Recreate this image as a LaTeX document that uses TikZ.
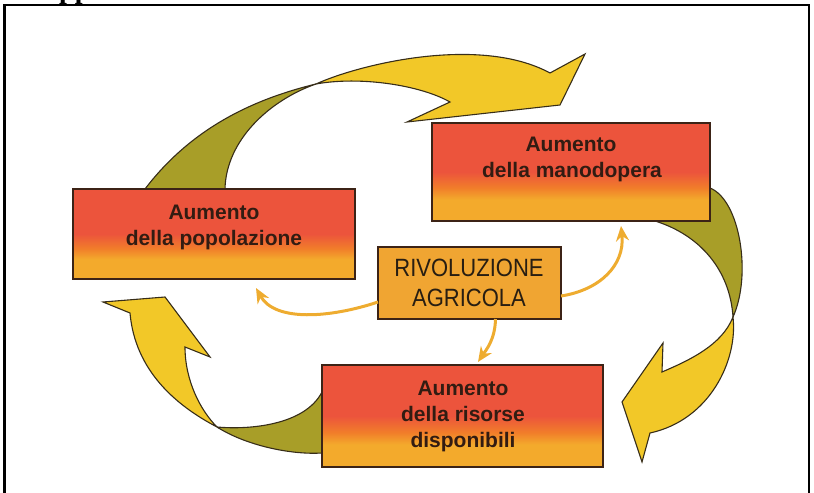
\documentclass[tikz,border=0pt]{standalone}
\usepackage{fontspec}
\usetikzlibrary{arrows.meta}
\newfontfamily\boxfont{Liberation Sans}
\newfontfamily\rivfont[FakeStretch=0.88]{Liberation Sans}
\newfontfamily\cutfont{Liberation Serif}
\definecolor{redc}{RGB}{236,84,60}
\definecolor{orc}{RGB}{241,125,42}
\definecolor{ambc}{RGB}{243,170,44}
\definecolor{rivfill}{RGB}{240,165,50}
\definecolor{boxline}{RGB}{60,35,22}
\definecolor{txtc}{RGB}{50,28,18}
\definecolor{rivtxtc}{RGB}{40,30,18}
\definecolor{olivec}{RGB}{168,158,40}
\definecolor{yelc}{RGB}{242,200,40}
\definecolor{arrline}{RGB}{55,45,25}
\definecolor{smallc}{RGB}{238,172,48}
\pgfdeclareverticalshading{boxshade}{100bp}{color(0bp)=(ambc); color(25bp)=(ambc); color(36bp)=(ambc); color(42bp)=(orc); color(50bp)=(redc); color(75bp)=(redc); color(100bp)=(redc)}
\tikzset{
  box/.style={rectangle, draw=boxline, line width=1.8bp, shading=boxshade, inner sep=0pt, outer sep=0pt},
  rivbox/.style={rectangle, draw=boxline, line width=1.8bp, fill=rivfill, inner sep=0pt, outer sep=0pt},
  boxtxt/.style={font=\boxfont\bfseries\fontsize{21bp}{26bp}\selectfont, text=txtc, anchor=base, inner sep=0pt},
  rivtxt/.style={font=\rivfont\fontsize{25bp}{30bp}\selectfont, text=rivtxtc, anchor=base, inner sep=0pt},
  olivepart/.style={fill=olivec, draw=arrline, line width=1.1bp, line join=round},
  yellowpart/.style={fill=yelc, draw=arrline, line width=1.1bp, line join=miter},
  smallarr/.style={draw=smallc, line width=3bp, -{Stealth[length=15bp,width=13bp]}},
  frame/.style={draw=black, line width=2.6bp}
}
\begin{document}
\begin{tikzpicture}[x=1bp,y=-1bp]
\useasboundingbox (0,0) rectangle (814,493);
% cut-off heading (only descenders visible)
\node[font=\cutfont\bfseries\fontsize{28bp}{28bp}\selectfont, anchor=base west, inner sep=0pt] (cut) at (59,-1.5) {pp};
% frame
\draw[frame] (4.5,500) -- (4.5,5) -- (809,5) -- (809,500);

% ---- big arrow A (popolazione -> manodopera)
\filldraw[olivepart] (145,189) .. controls (190,130) and (250,100) .. (316,84)
   .. controls (270,100) and (226,140) .. (225,189) -- cycle;
\filldraw[yellowpart] (316,84) .. controls (360,64) and (480,35) .. (550,73)
   -- (585,54) -- (560,105) -- (407,122) -- (450,102)
   .. controls (420,85) and (360,76) .. (316,84) -- cycle;

% ---- big arrow B (manodopera -> risorse)
\filldraw[olivepart] (710,188) .. controls (740,200) and (752,275) .. (733,317)
   .. controls (730,270) and (700,235) .. (655,221) -- (710,221) -- cycle;
\filldraw[yellowpart] (733,317) .. controls (738,360) and (710,420) .. (650,433)
   -- (642,462) -- (622,402) -- (663,343) -- (662,372)
   .. controls (690,360) and (722,345) .. (733,317) -- cycle;

% ---- big arrow C (risorse -> popolazione)
\filldraw[olivepart] (322,453) .. controls (290,455) and (245,445) .. (217,427)
   .. controls (250,430) and (305,425) .. (322,392) -- cycle;
\filldraw[yellowpart] (217,427) .. controls (175,405) and (135,370) .. (130,313)
   -- (103,302) -- (165,297) -- (210,357) -- (185,347)
   .. controls (185,380) and (200,410) .. (217,427) -- cycle;

% ---- boxes
\node[box, minimum width=282bp, minimum height=90bp] (pop) at (214,234) {};
\node[box, minimum width=278bp, minimum height=98bp] (man) at (571,172) {};
\node[rivbox, minimum width=183bp, minimum height=72bp] (riv) at (469.5,283) {};
\node[box, minimum width=281bp, minimum height=102bp] (ris) at (462.5,416) {};

% ---- texts
\node[boxtxt] (popa) at (214,220) {Aumento};
\node[boxtxt] (popb) at (214,246) {della popolazione};
\node[boxtxt] (mana) at (571,152) {Aumento};
\node[boxtxt] (manb) at (572,178) {della manodopera};
\node[boxtxt] (risa) at (463,395) {Aumento};
\node[boxtxt] (risb) at (463,421) {della risorse};
\node[boxtxt] (risc) at (463,447) {disponibili};
\node[rivtxt] (riva) at (469,277) {RIVOLUZIONE};
\node[rivtxt] (rivb) at (469,307) {AGRICOLA};

% ---- small arrows
\coordinate (tipL) at (256,288);
\coordinate (tipR) at (621,226);
\coordinate (tipD) at (478,362);
\draw[smallarr] ([yshift=-19bp]riv.west) .. controls (330,318) and (275,322) .. (tipL);
\draw[smallarr] ([yshift=-13bp]riv.east) .. controls (600,290) and (625,265) .. (tipR);
\draw[smallarr] ([xshift=26bp]riv.south) .. controls (495,340) and (486,350) .. (tipD);
\end{tikzpicture}
\end{document}
